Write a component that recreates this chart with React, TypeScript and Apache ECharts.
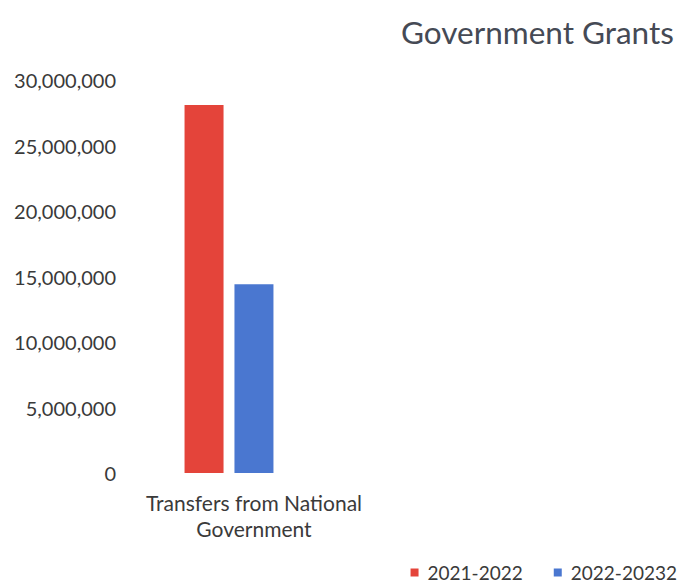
import React, { useEffect, useRef } from "react";
import * as echarts from "echarts";

const categories = ["Transfers from National\nGovernment"];
const seriesNames = ["2021-2022", "2022-20232"];
const values2021 = [28100000];
const values2022 = [14400000];
const colors = ["#e4443a", "#4a77d0"];

const fmt = (v: number) => v.toLocaleString("en-US");

export default function App() {
  const ref = useRef<HTMLDivElement>(null);
  useEffect(() => {
    document.body.style.margin = "0";
    const chart = echarts.init(ref.current!, undefined, { renderer: "svg" });
    chart.setOption({
      animation: false,
      backgroundColor: "#ffffff",
      textStyle: { fontFamily: "Lato" },
      title: {
        text: "Government Grants",
        left: 396,
        top: 11,
        textStyle: { fontFamily: "Lato", fontSize: 31.5, fontWeight: "normal", color: "#454a55" },
      },
      legend: {
        data: seriesNames,
        right: 6,
        bottom: -3,
        itemWidth: 8,
        itemHeight: 8,
        itemGap: 31,
        icon: "rect",
        textStyle: { fontFamily: "Lato", fontSize: 19, color: "#3a3a3a", padding: [0, 0, 0, 4] },
      },
      grid: { left: 130, width: 198, top: 80, height: 393, containLabel: false },
      xAxis: {
        type: "category",
        data: categories,
        axisLine: { show: false },
        axisTick: { show: false },
        axisLabel: {
          fontFamily: "Lato",
          fontSize: 21,
          lineHeight: 26,
          color: "#3a3a3a",
          margin: 16,
          padding: [0, 0, 0, 50],
        },
      },
      yAxis: {
        type: "value",
        min: 0,
        max: 30000000,
        interval: 5000000,
        splitLine: { show: false },
        axisLine: { show: false },
        axisTick: { show: false },
        axisLabel: {
          fontFamily: "Lato",
          fontSize: 20,
          color: "#3a3a3a",
          margin: 14,
          formatter: (v: number) => fmt(v),
        },
      },
      series: [
        {
          name: seriesNames[0],
          type: "bar",
          data: values2021,
          barWidth: 39,
          barGap: "28%",
          itemStyle: { color: colors[0] },
        },
        {
          name: seriesNames[1],
          type: "bar",
          data: values2022,
          barWidth: 39,
          itemStyle: { color: colors[1] },
        },
      ],
    });
    return () => chart.dispose();
  }, []);
  return <div ref={ref} style={{ width: 688, height: 584 }} />;
}
